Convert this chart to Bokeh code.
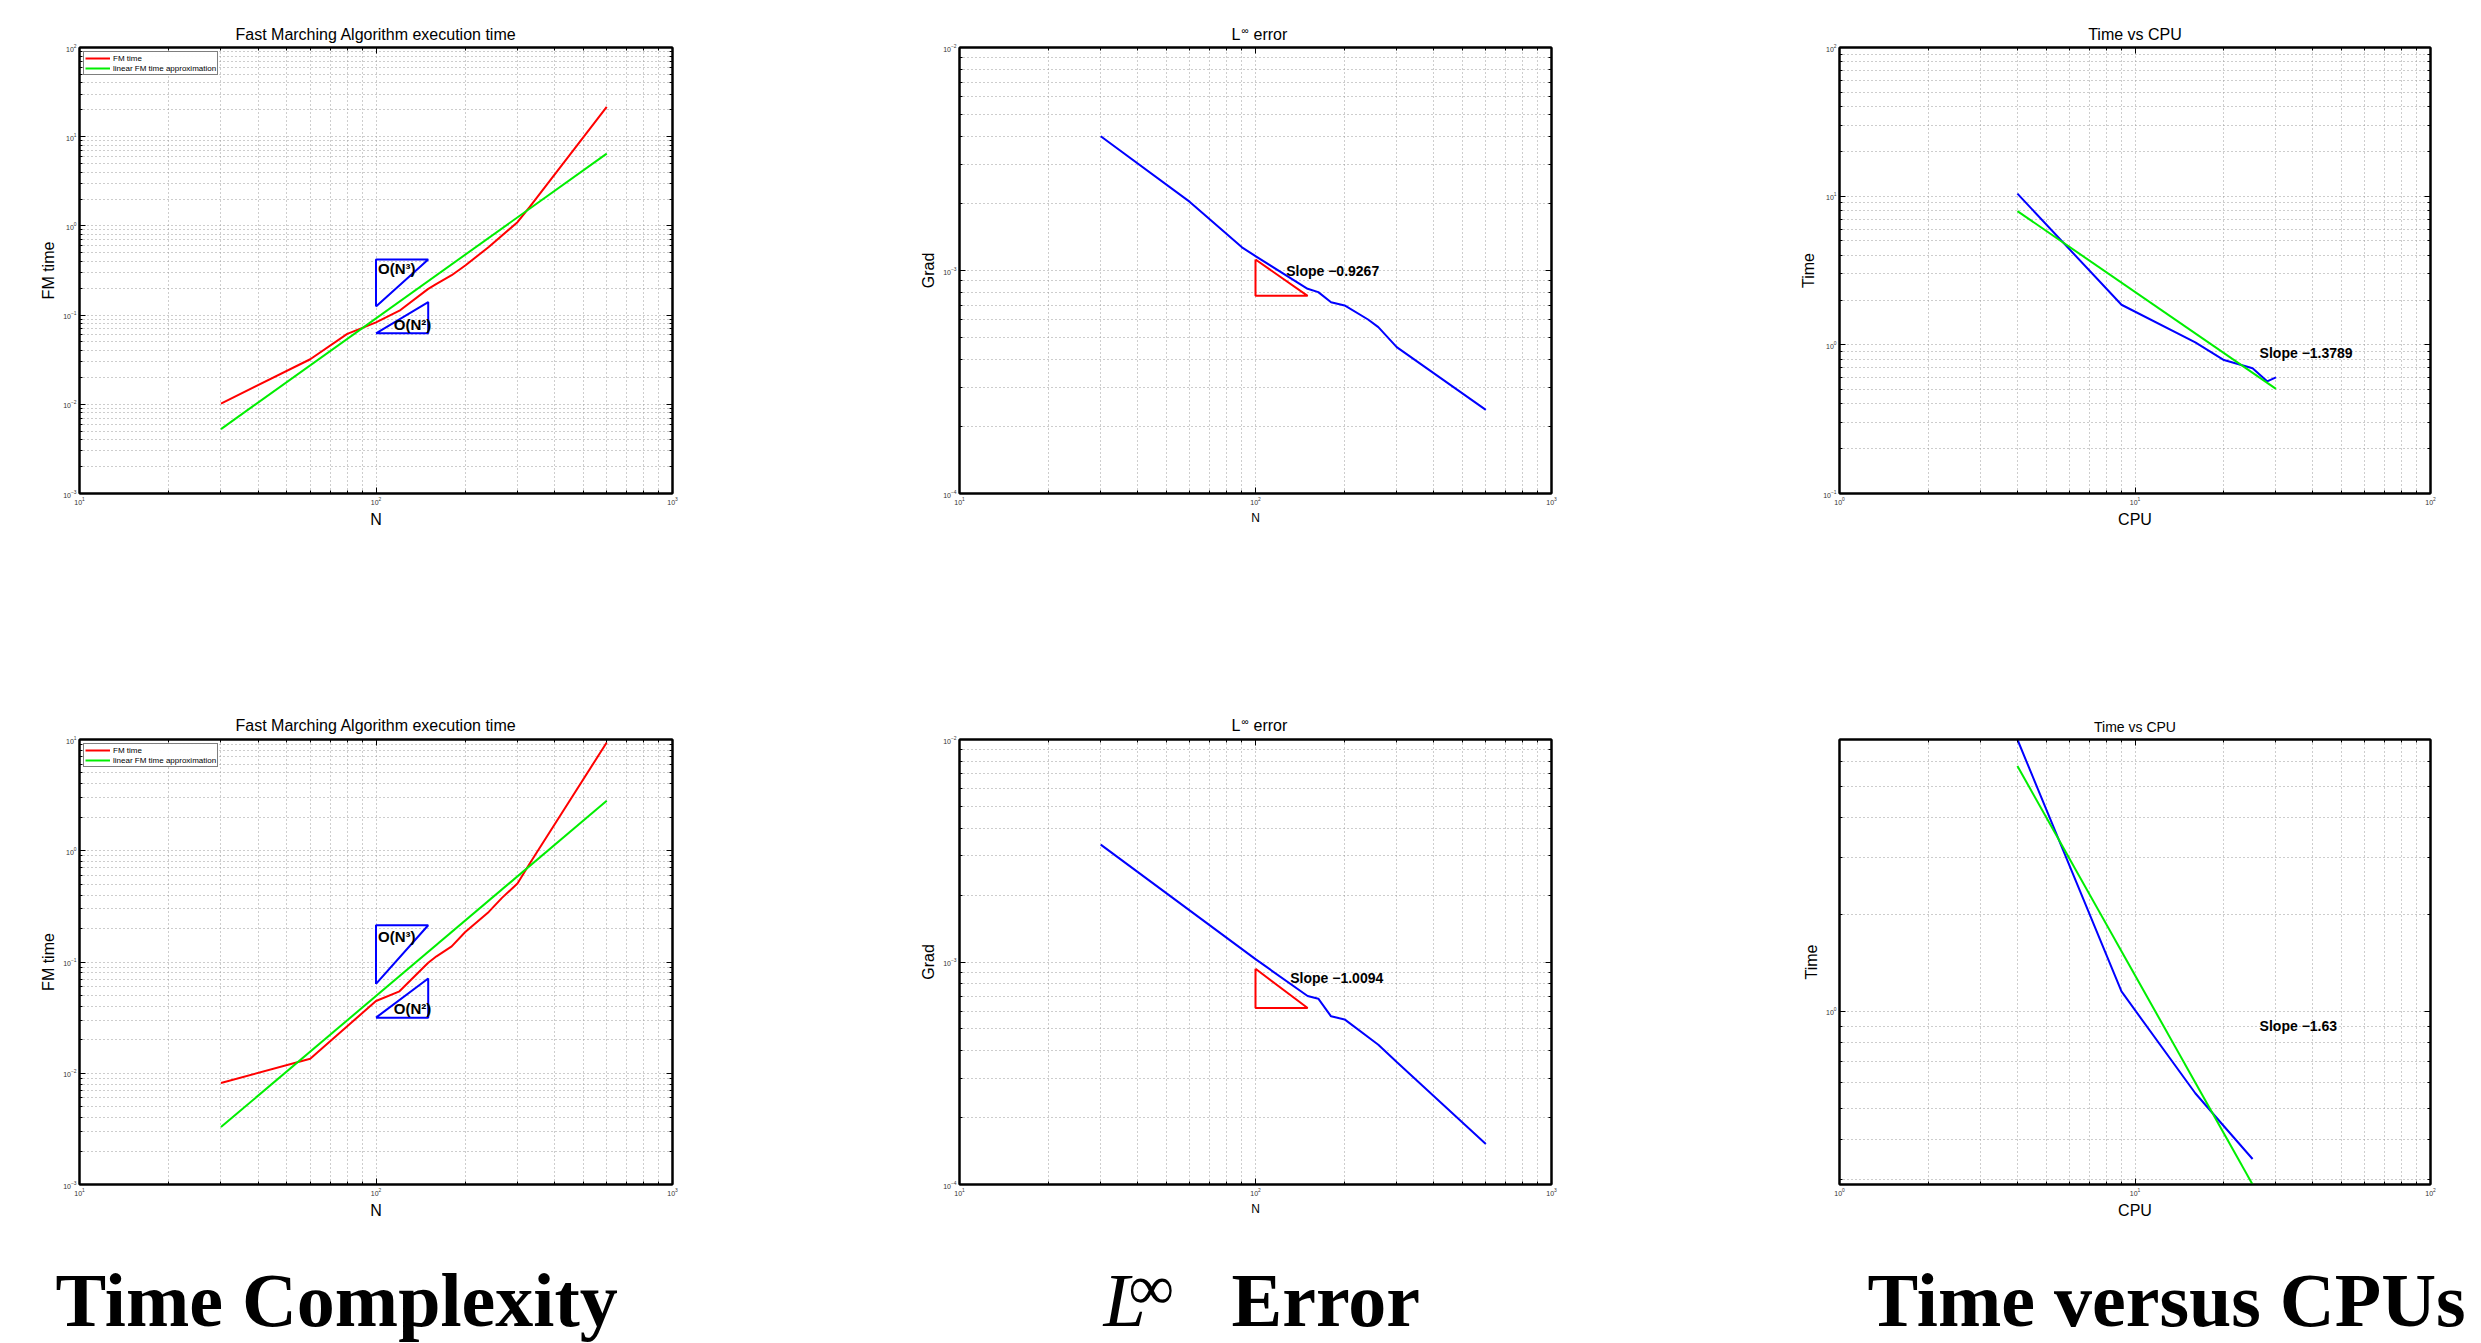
from bokeh.plotting import figure
from bokeh.layouts import column, row
from bokeh.models import (Range1d, LogAxis, FixedTicker, LogTickFormatter, Label,
                          Legend, LegendItem, CustomJSTickFormatter)
from bokeh.embed import file_html
from bokeh.resources import INLINE

# ---------------- data ----------------
# Top-left: Fast Marching execution time
tl_N = [30, 60, 80, 90, 100, 120, 150, 160, 180, 200, 240, 300, 330, 600]
tl_fm = [0.0102, 0.032, 0.0615, 0.072, 0.083, 0.112, 0.197, 0.224, 0.28, 0.36, 0.58, 1.10, 1.63, 21.6]
tl_fitN = [30, 600]
tl_fit = [0.00527, 6.46]
tl_o3x = [100, 100, 150, 100]
tl_o3y = [0.125, 0.42, 0.42, 0.125]
tl_o2x = [100, 150, 150, 100]
tl_o2y = [0.0625, 0.0625, 0.14, 0.0625]
tl_lbl3 = (100, 0.33)
tl_lbl2 = (113, 0.078)

# Bottom-left
bl_N = [30, 60, 100, 120, 150, 160, 180, 200, 240, 266, 300, 330, 600]
bl_fm = [0.00817, 0.0135, 0.0446, 0.0545, 0.0986, 0.1125, 0.138, 0.186, 0.282, 0.377, 0.507, 0.767, 9.4]
bl_fitN = [30, 600]
bl_fit = [0.00328, 2.81]
bl_o3x = [100, 100, 150, 100]
bl_o3y = [0.0635, 0.214, 0.214, 0.0635]
bl_o2x = [100, 150, 150, 100]
bl_o2y = [0.0316, 0.0316, 0.071, 0.0316]
bl_lbl3 = (100, 0.168)
bl_lbl2 = (113, 0.0385)

# Top-middle: L-inf error
tm_N = [30, 60, 90, 100, 150, 163, 180, 200, 240, 260, 300, 600]
tm_err = [0.0040, 0.00203, 0.00127, 0.00116, 0.000828, 0.0008, 0.000721, 0.000697,
          0.000603, 0.000557, 0.000453, 0.000237]
tm_trix = [100, 100, 150, 100]
tm_triy = [0.00112, 0.00077, 0.00077, 0.00112]
tm_slope = "Slope \u22120.9267"
tm_lbl = (125, 0.001)

# Bottom-middle
bm_N = [30, 100, 150, 163, 180, 200, 260, 300, 600]
bm_err = [0.00337, 0.00103, 0.000703, 0.000684, 0.00057, 0.000552, 0.000425, 0.000355, 0.000152]
bm_trix = [100, 100, 150, 100]
bm_triy = [0.000933, 0.000621, 0.000621, 0.000933]
bm_slope = "Slope \u22121.0094"
bm_lbl = (129, 0.00085)

# Top-right: time vs CPU
tr_cpu = [4, 9, 16, 20, 25, 28, 30]
tr_time = [10.4, 1.86, 1.04, 0.79, 0.695, 0.568, 0.604]
tr_fitc = [4, 30]
tr_fit = [7.94, 0.505]
tr_slope = "Slope \u22121.3789"
tr_lbl = (26, 0.88)

# Bottom-right
br_cpu = [4, 9, 16, 20, 25]
br_time = [7.0, 1.154, 0.557, 0.44, 0.348]
br_fitc = [4, 25]
br_fit = [5.79, 0.29]
br_slope = "Slope \u22121.63"
br_lbl = (26, 0.9)
br_yrange = (0.29, 7.0)

fm_title = "Fast Marching Algorithm execution time"
cpu_title = "Time vs CPU"
captions = ["Time Complexity", "L", "\u221e", "Error", "Time versus CPUs"]

RED = "#ff0000"
GREEN = "#00ee00"
BLUE = "#0000ff"
SANS = "Liberation Sans"
SERIF = "Liberation Serif"

# ---------------- layout geometry (page pixels) ----------------
TOTAL_W = 2480
COLW = [820, 820, 840]
FRAME_X = [(79, 672), (959, 1551), (1839, 2430)]
STRIP1_H = 43
ROW1_H = 657          # 43 .. 700  (frame 47 .. 493)
STRIP2_H = 35         # 700 .. 735
ROW2_H = 505          # 735 .. 1240 (frame 739 .. 1184)
CAP_H = 102           # 1240 .. 1342


def dec_ticks(lo, hi):
    majors = [10.0 ** k for k in range(lo, hi + 1)]
    minors = [m * 10.0 ** k for k in range(lo, hi) for m in range(2, 10)]
    return FixedTicker(ticks=majors, minor_ticks=minors)


def style_axis(ax, ticker, labels=True):
    ax.ticker = ticker
    ax.axis_line_color = "black"
    ax.axis_line_width = 2
    ax.major_tick_in = 6
    ax.major_tick_out = 0
    ax.minor_tick_in = 3
    ax.minor_tick_out = 0
    ax.major_tick_line_color = "black"
    ax.minor_tick_line_color = "black"
    ax.major_tick_line_width = 1
    ax.minor_tick_line_width = 1
    if labels:
        ax.formatter = LogTickFormatter()
        ax.major_label_text_font_size = "7px"
        ax.major_label_text_font = SANS
        ax.major_label_text_color = "#333333"
        ax.major_label_standoff = 3
    else:
        ax.formatter = CustomJSTickFormatter(code="return ''")
        ax.major_label_text_font_size = "1px"
        ax.major_label_standoff = 0


def make_panel(col, h, bt, bb, xr, yr, xt, yt, xlabel, xlsize, ylabel):
    x0 = sum(COLW[:col])
    fl, fr = FRAME_X[col]
    bl = fl - x0
    br = x0 + COLW[col] - fr
    p = figure(width=COLW[col], height=h, x_axis_type="log", y_axis_type="log",
               x_range=Range1d(*xr), y_range=Range1d(*yr), title=None,
               output_backend="svg", toolbar_location=None,
               min_border_left=bl, min_border_right=br,
               min_border_top=bt, min_border_bottom=bb,
               background_fill_color="white", border_fill_color="white")
    p.outline_line_color = "black"
    p.outline_line_width = 2
    xb = p.below[0]
    yl = p.left[0]
    style_axis(xb, xt)
    style_axis(yl, yt)
    ra = LogAxis()
    style_axis(ra, yt, labels=False)
    p.add_layout(ra, "right")
    ta = LogAxis()
    style_axis(ta, xt, labels=False)
    p.add_layout(ta, "above")
    for g, t in ((p.xgrid[0], xt), (p.ygrid[0], yt)):
        g.ticker = t
        g.grid_line_color = "#9a9a9a"
        g.grid_line_dash = "1 3"
        g.grid_line_width = 1
        g.minor_grid_line_color = "#9a9a9a"
        g.minor_grid_line_dash = "1 3"
        g.minor_grid_line_width = 1
    xb.axis_label = xlabel
    yl.axis_label = ylabel
    for ax, fs in ((xb, xlsize), (yl, "16px")):
        ax.axis_label_text_font = SANS
        ax.axis_label_text_font_style = "normal"
        ax.axis_label_text_font_size = fs
        ax.axis_label_text_color = "black"
        ax.axis_label_standoff = 3
    return p


def add_legend(p, r1, r2):
    leg = Legend(items=[LegendItem(label="FM time", renderers=[r1]),
                        LegendItem(label="linear FM time approximation", renderers=[r2])],
                 location="top_left")
    leg.label_text_font = SANS
    leg.label_text_font_size = "8px"
    leg.label_text_color = "black"
    leg.label_height = 10
    leg.glyph_height = 10
    leg.glyph_width = 25
    leg.label_standoff = 3
    leg.padding = 1
    leg.spacing = 0
    leg.margin = 4
    leg.border_line_color = "black"
    leg.border_line_width = 1.5
    p.add_layout(leg)


def bold_label(p, xy, text, size="14px"):
    p.add_layout(Label(x=xy[0], y=xy[1], text=text, text_font=SANS, text_font_style="bold",
                       text_font_size=size, text_baseline="middle", text_align="left",
                       text_color="black", x_offset=2))


def strip(h):
    s = figure(width=TOTAL_W, height=h, x_range=Range1d(0, TOTAL_W), y_range=Range1d(0, h),
               title=None, output_backend="svg", toolbar_location=None, min_border=0,
               x_axis_location=None, y_axis_location=None,
               background_fill_color="white", border_fill_color="white")
    s.grid.visible = False
    s.outline_line_color = None
    return s


def txt(s, x, base, text, size_px, font=SANS, style="normal", align="left"):
    # anchor is the middle of the text box; convert the wanted baseline to it
    mid = 0.3465 if font == SANS else 0.3375
    s.add_layout(Label(x=x, y=base + mid * size_px, text=text, text_font=font,
                       text_font_style=style, text_font_size=f"{size_px}px",
                       text_baseline="middle", text_align=align, text_color="black"))


def panel_titles(s, base_y, cpu_size):
    c0 = sum(FRAME_X[0]) / 2
    c2 = sum(FRAME_X[2]) / 2
    txt(s, c0, base_y, fm_title, 16, align="center")
    txt(s, 1231, base_y, "L", 16)
    txt(s, 1241, base_y + 7, "\u221e", 10)
    txt(s, 1253, base_y, "error", 16)
    txt(s, c2, base_y, cpu_title, cpu_size, align="center")


# ---------------- title strips ----------------
s1 = strip(STRIP1_H)
panel_titles(s1, STRIP1_H - 40, 16)      # baseline at page y 40
s2 = strip(STRIP2_H)
panel_titles(s2, STRIP2_H - 31, 14)      # baseline at page y 731

# ---------------- panels ----------------
BT = 4
BB1 = ROW1_H - BT - 446
BB2 = ROW2_H - BT - 445

p1 = make_panel(0, ROW1_H, BT, BB1, (10, 1000), (1e-3, 1e2), dec_ticks(1, 3), dec_ticks(-3, 2),
                "N", "16px", "FM time")
r1 = p1.line(tl_N, tl_fm, line_color=RED, line_width=2)
r2 = p1.line(tl_fitN, tl_fit, line_color=GREEN, line_width=2)
p1.line(tl_o3x, tl_o3y, line_color=BLUE, line_width=2)
p1.line(tl_o2x, tl_o2y, line_color=BLUE, line_width=2)
bold_label(p1, tl_lbl3, "O(N\u00b3)", "15px")
bold_label(p1, tl_lbl2, "O(N\u00b2)", "15px")
add_legend(p1, r1, r2)

p2 = make_panel(1, ROW1_H, BT, BB1, (10, 1000), (1e-4, 1e-2), dec_ticks(1, 3), dec_ticks(-4, -2),
                "N", "12px", "Grad")
p2.line(tm_N, tm_err, line_color=BLUE, line_width=2)
p2.line(tm_trix, tm_triy, line_color=RED, line_width=2)
bold_label(p2, tm_lbl, tm_slope)

p3 = make_panel(2, ROW1_H, BT, BB1, (1, 100), (0.1, 100), dec_ticks(0, 2), dec_ticks(-1, 2),
                "CPU", "16px", "Time")
p3.line(tr_cpu, tr_time, line_color=BLUE, line_width=2)
p3.line(tr_fitc, tr_fit, line_color=GREEN, line_width=2)
bold_label(p3, tr_lbl, tr_slope)

p4 = make_panel(0, ROW2_H, BT, BB2, (10, 1000), (1e-3, 1e1), dec_ticks(1, 3), dec_ticks(-3, 1),
                "N", "16px", "FM time")
r1 = p4.line(bl_N, bl_fm, line_color=RED, line_width=2)
r2 = p4.line(bl_fitN, bl_fit, line_color=GREEN, line_width=2)
p4.line(bl_o3x, bl_o3y, line_color=BLUE, line_width=2)
p4.line(bl_o2x, bl_o2y, line_color=BLUE, line_width=2)
bold_label(p4, bl_lbl3, "O(N\u00b3)", "15px")
bold_label(p4, bl_lbl2, "O(N\u00b2)", "15px")
add_legend(p4, r1, r2)

p5 = make_panel(1, ROW2_H, BT, BB2, (10, 1000), (1e-4, 1e-2), dec_ticks(1, 3), dec_ticks(-4, -2),
                "N", "12px", "Grad")
p5.line(bm_N, bm_err, line_color=BLUE, line_width=2)
p5.line(bm_trix, bm_triy, line_color=RED, line_width=2)
bold_label(p5, bm_lbl, bm_slope)

br_yt = FixedTicker(ticks=[1.0], minor_ticks=[0.3, 0.4, 0.5, 0.6, 0.7, 0.8, 0.9, 2, 3, 4, 5, 6, 7])
p6 = make_panel(2, ROW2_H, BT, BB2, (1, 100), br_yrange, dec_ticks(0, 2), br_yt,
                "CPU", "16px", "Time")
p6.line(br_cpu, br_time, line_color=BLUE, line_width=2)
p6.line(br_fitc, br_fit, line_color=GREEN, line_width=2)
bold_label(p6, br_lbl, br_slope)

# ---------------- captions ----------------
cap = strip(CAP_H)
cb = 17   # baseline at page y 1325
txt(cap, 55, cb, captions[0], 76, font=SERIF, style="bold")
txt(cap, 1103, cb, captions[1], 76, font=SERIF, style="italic")
txt(cap, 1128, cb + 16, captions[2], 64, font=SERIF)
txt(cap, 1231, cb, captions[3], 76, font=SERIF, style="bold")
txt(cap, 1867, cb, captions[4], 76, font=SERIF, style="bold")

layout = column(s1, row(p1, p2, p3), s2, row(p4, p5, p6), cap)
open("out.html", "w").write(file_html(layout, INLINE))
